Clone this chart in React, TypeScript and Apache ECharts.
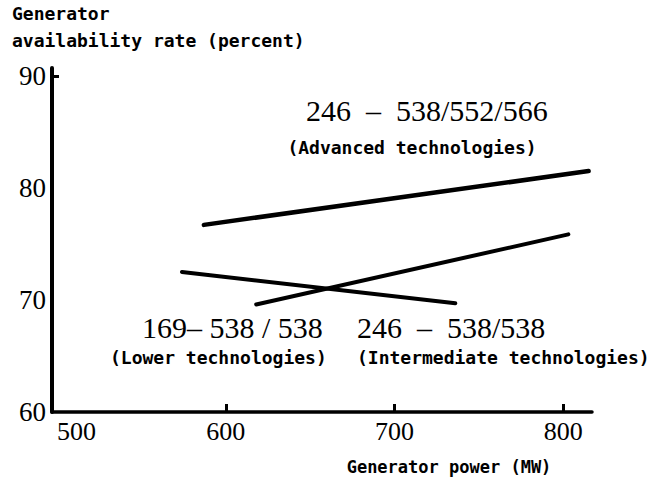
import React, { useEffect, useRef } from "react";
import * as echarts from "echarts";

const xTicks = [500, 600, 700, 800];
const yTicks = [60, 70, 80, 90];
const advanced: [number, number][] = [[587, 76.7], [815, 81.5]];
const intermediate: [number, number][] = [[618, 69.6], [803, 75.85]];
const lower: [number, number][] = [[574, 72.5], [736, 69.7]];

const MONO = "'DejaVu Sans Mono', monospace";
const SERIF = "'Liberation Serif', 'DejaVu Serif', serif";

export default function App() {
  const ref = useRef<HTMLDivElement>(null);
  useEffect(() => {
    if (!ref.current) return;
    const chart = echarts.init(ref.current, null, { renderer: "svg" });
    const lineSeries = (name: string, data: [number, number][], width: number) => ({
      name,
      type: "line",
      data,
      symbol: "none",
      lineStyle: { color: "#000", width, cap: "round" },
      silent: true,
    });
    const mono = (text: string, x: number, y: number, align = "center", size = 18) => ({
      type: "text",
      x,
      y,
      style: { text, font: `bold ${size}px ${MONO}`, fill: "#000", align, verticalAlign: "middle" },
    });
    const serif = (text: string, x: number, y: number, align = "center") => ({
      type: "text",
      x,
      y,
      style: { text, font: `30px ${SERIF}`, fill: "#000", align, verticalAlign: "middle" },
    });
    chart.setOption({
      animation: false,
      backgroundColor: "#fff",
      grid: { left: 52, right: 64, top: 68, bottom: 72 },
      xAxis: {
        type: "value",
        min: 497,
        max: 817,
        axisLine: { show: true, onZero: false, lineStyle: { color: "#000", width: 3.5 } },
        axisTick: {
          show: true,
          inside: true,
          length: 8,
          customValues: [600, 700, 800],
          lineStyle: { color: "#000", width: 3 },
        },
        axisLabel: {
          customValues: xTicks,
          color: "#000",
          fontFamily: SERIF,
          fontSize: 26,
          margin: 6,
          alignMinLabel: "left",
        },
        splitLine: { show: false },
      },
      yAxis: {
        type: "value",
        min: 60,
        max: 90.7,
        axisLine: { show: true, lineStyle: { color: "#000", width: 4 } },
        axisTick: {
          show: true,
          inside: true,
          length: 7,
          customValues: [90],
          lineStyle: { color: "#000", width: 3 },
        },
        axisLabel: {
          customValues: yTicks,
          color: "#000",
          fontFamily: SERIF,
          fontSize: 27,
          margin: 6,
        },
        splitLine: { show: false },
      },
      series: [
        lineSeries("Advanced", advanced, 4.5),
        lineSeries("Intermediate", intermediate, 4),
        lineSeries("Lower", lower, 4),
      ],
      graphic: [
        mono("Generator", 12, 13, "left"),
        mono("availability rate (percent)", 12, 40, "left"),
        serif("246  –  538/552/566", 306, 110, "left"),
        mono("(Advanced technologies)", 412, 147),
        serif("169– 538 / 538", 142, 327, "left"),
        serif("246  –  538/538", 357, 327, "left"),
        mono("(Lower technologies)", 110, 357, "left"),
        mono("(Intermediate technologies)", 357, 357, "left"),
        mono("Generator power (MW)", 449, 467, "center", 17),
      ],
    });
    return () => chart.dispose();
  }, []);
  return (
    <div
      ref={ref}
      style={{ position: "absolute", left: 0, top: 0, width: 656, height: 484 }}
    />
  );
}
